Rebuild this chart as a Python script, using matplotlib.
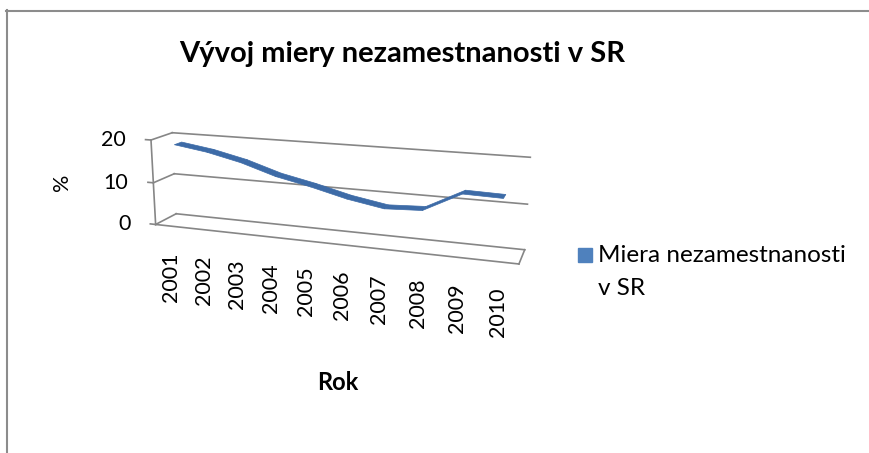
import numpy as np
import matplotlib
matplotlib.use("Agg")
import matplotlib.pyplot as plt
from matplotlib.lines import Line2D
from mpl_toolkits.mplot3d import proj3d

# data
years = ["2001", "2002", "2003", "2004", "2005", "2006", "2007", "2008", "2009", "2010"]
rate = [18.6, 17.4, 15.6, 13.1, 11.4, 9.4, 8.0, 8.4, 12.7, 12.5]
z_ticks = [0, 10, 20]
title = "Vývoj miery nezamestnanosti v SR"
legend_lines = ["Miera nezamestnanosti", "v SR"]

W, H = 870, 453
plt.rcParams["font.family"] = ["Lato", "DejaVu Sans"]
grid_c = "#868686"
line_c = "#3d6ba7"

fig = plt.figure(figsize=(W / 100, H / 100), dpi=100)
ax = fig.add_axes([0.1554, 0.1411, 0.439, 0.8431], projection="3d")
ax.set_axis_off()
ax.patch.set_alpha(0)
ax.computed_zorder = False

n = len(years)
x0, x1 = -0.5, n - 0.5
ax.set_xlim(x0, x1)
ax.set_ylim(0, 1)
ax.set_zlim(0, 20)

# Excel-like 3D view (perspective, seen from front-left, slightly above)
ax.view_init(elev=14.606, azim=-70.681)
ax.set_proj_type("persp", focal_length=0.408)
ax.set_box_aspect((378, 43.443, 90.684))

# walls, floor and value axis
kw = dict(color=grid_c, lw=1.2, zorder=1, clip_on=False)
for z in z_ticks:
    ax.plot([x0, x1], [1, 1], [z, z], **kw)
    ax.plot([x0, x0], [0, 1], [z, z], **kw)
    ax.plot([x0 - 0.17, x0], [0, 0], [z, z], **kw)
ax.plot([x0, x0], [0, 0], [0, 20], **kw)
ax.plot([x0, x1], [0, 0], [0, 0], **kw)
ax.plot([x1, x1], [0, 1], [0, 0], **kw)

# the series as a flat ribbon in the middle of the depth
xi = np.arange(n)
X = np.array([xi, xi], float)
Y = np.array([[0.325] * n, [0.675] * n])
Z = np.array([rate, rate])
ax.plot_surface(X, Y, Z, color=line_c, edgecolor=line_c, linewidth=0.5,
                shade=False, zorder=3, clip_on=False)

# tick labels placed from the projected axis positions
fig.canvas.draw()
M = ax.get_proj()
for i, yr in enumerate(years):
    X2, Y2, _ = proj3d.proj_transform(i, 0, 0, M)
    px, py = ax.transData.transform((X2, Y2))
    fig.text(px / W, (py - 26) / H, yr, rotation=90, ha="center", va="top",
             fontsize=15.5, color="black")
for z in z_ticks:
    X2, Y2, _ = proj3d.proj_transform(x0, 0, z, M)
    px, py = ax.transData.transform((X2, Y2))
    fig.text((px - 25) / W, py / H, str(z), ha="right", va="center",
             fontsize=15.5, color="black")

fig.text(402 / W, 1 - 62 / H, title, ha="center", va="baseline",
         fontsize=21, fontweight="bold")
fig.text(62 / W, 1 - 182 / H, "%", rotation=90, ha="center", va="center",
         fontsize=15.5)
fig.text(338 / W, 1 - 390 / H, "Rok", ha="center", va="baseline",
         fontsize=17, fontweight="bold")

# legend
fig.add_artist(Line2D([585.5 / W], [1 - 255 / H], marker="s", markersize=9.4,
                      color="#4f81bd", linestyle="none"))
fig.text(598 / W, 1 - 262 / H, legend_lines[0], va="baseline", fontsize=17.5)
fig.text(598 / W, 1 - 295 / H, legend_lines[1], va="baseline", fontsize=17.5)

# chart area border
fig.add_artist(Line2D([6 / W, 1], [1 - 11 / H, 1 - 11 / H], color="#8c8c8c", lw=1.5))
fig.add_artist(Line2D([7 / W, 7 / W], [0, 1 - 10 / H], color="#8c8c8c", lw=1.5))

fig.savefig("out.png", dpi=100)
